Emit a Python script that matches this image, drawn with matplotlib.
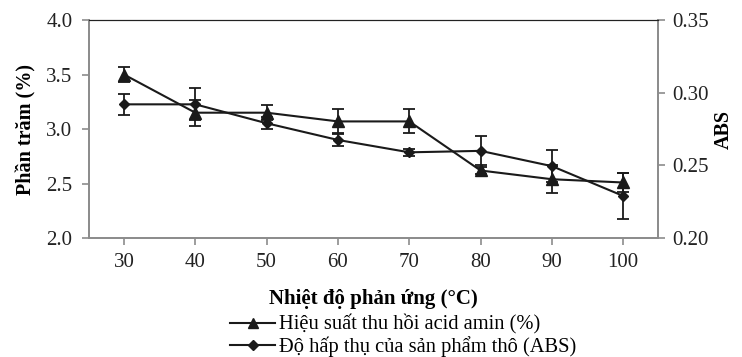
import numpy as np
import matplotlib.pyplot as plt
from matplotlib.lines import Line2D

plt.rcParams['font.family'] = ['Liberation Serif', 'DejaVu Serif']

# data
temps = [30, 40, 50, 60, 70, 80, 90, 100]
yield_pct = [3.50, 3.15, 3.15, 3.07, 3.07, 2.62, 2.54, 2.51]
yield_err = [0.07, 0.12, 0.07, 0.11, 0.11, 0.03, 0.13, 0.09]
abs_val = [0.292, 0.292, 0.279, 0.2675, 0.259, 0.260, 0.2495, 0.229]
abs_err = [0.007, 0.011, 0.004, 0.004, 0.0025, 0.010, 0.011, 0.016]

label_yield = "Hiệu suất thu hồi acid amin (%)"
label_abs = "Độ hấp thụ của sản phẩm thô (ABS)"

fig = plt.figure(figsize=(7.42, 3.57), dpi=100)
ax = fig.add_axes([0.12, 0.333, 0.767, 0.611])
ax2 = ax.twinx()

ax.errorbar(temps, yield_pct, yerr=yield_err, color="#1a1a1a", lw=1.5,
            marker="^", ms=8, capsize=4.5, elinewidth=1.3, capthick=1.3)
ax2.errorbar(temps, abs_val, yerr=abs_err, color="#1a1a1a", lw=1.5,
             marker="D", ms=5.5, capsize=4.5, elinewidth=1.3, capthick=1.3)

ax.set_xlim(25.1, 104.9)
ax.set_ylim(2.0, 4.0)
ax2.set_ylim(0.20, 0.35)
ax.set_xticks(temps)
ax.set_yticks([2.0, 2.5, 3.0, 3.5, 4.0])
ax2.set_yticks([0.20, 0.25, 0.30, 0.35])
ax.set_yticklabels(["2.0", "2.5", "3.0", "3.5", "4.0"])
ax2.set_yticklabels(["0.20", "0.25", "0.30", "0.35"])

grey = "#8c8c8c"
for a in (ax, ax2):
    for s in ("left", "right", "bottom"):
        a.spines[s].set_color(grey)
        a.spines[s].set_linewidth(1.3)
    a.spines["top"].set_color("#222222")
    a.tick_params(colors=grey, labelcolor="#222222", labelsize=15,
                  length=5, width=1.2, pad=5)
ax.tick_params(axis="x", pad=6)
ax.tick_params(axis="y", pad=7)

ax.set_ylabel("Phần trăm (%)", fontsize=14.5, fontweight="bold", labelpad=7)
ax2.set_ylabel("ABS", fontsize=14.5, fontweight="bold", labelpad=4)
ax.set_xlabel("Nhiệt độ phản ứng (°C)", fontsize=15, fontweight="bold",
              labelpad=12)

handles = [
    Line2D([], [], color="#1a1a1a", lw=1.5, marker="^", ms=7),
    Line2D([], [], color="#1a1a1a", lw=1.5, marker="D", ms=5),
]
fig.legend(handles, [label_yield, label_abs], loc="upper left",
           bbox_to_anchor=(0.31, 0.118), frameon=False,
           fontsize=14.8, handlelength=2.2, handletextpad=0.2,
           labelspacing=0.05, borderaxespad=0, borderpad=0)

fig.savefig("out.png", dpi=100)
